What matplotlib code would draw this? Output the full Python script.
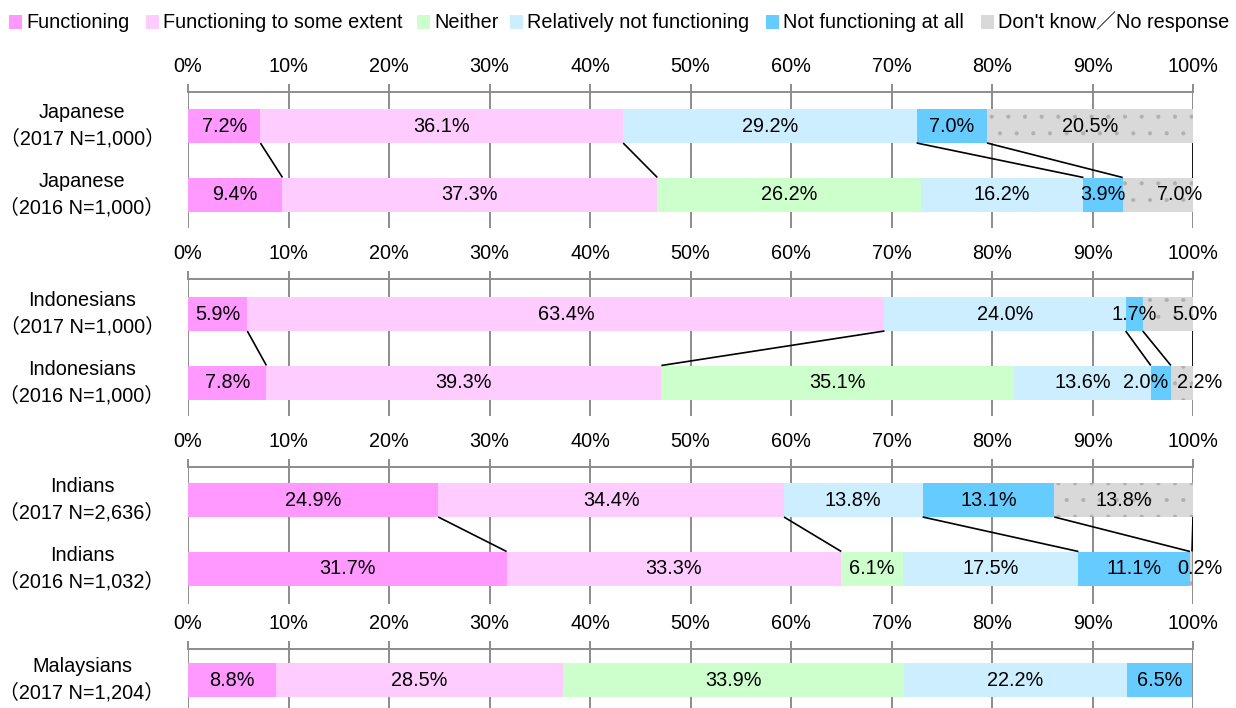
import matplotlib
matplotlib.use("Agg")
import matplotlib.pyplot as plt
from matplotlib.patches import Rectangle

plt.rcParams["font.family"] = ["Liberation Sans", "Noto Sans CJK JP", "DejaVu Sans"]
plt.rcParams["hatch.linewidth"] = 0.5

# Response categories and their colours
categories = [
    "Functioning",
    "Functioning to some extent",
    "Neither",
    "Relatively not functioning",
    "Not functioning at all",
    "Don't know／No response",
]
colors = ["#ff99ff", "#ffccff", "#ccffcc", "#cceeff", "#66ccff", "#d9d9d9"]

# Share of respondents (%) per category
japanese_2017 = [7.2, 36.1, 0.0, 29.2, 7.0, 20.5]
japanese_2016 = [9.4, 37.3, 26.2, 16.2, 3.9, 7.0]
indonesians_2017 = [5.9, 63.4, 0.0, 24.0, 1.7, 5.0]
indonesians_2016 = [7.8, 39.3, 35.1, 13.6, 2.0, 2.2]
indians_2017 = [24.9, 34.4, 0.0, 13.8, 13.1, 13.8]
indians_2016 = [31.7, 33.3, 6.1, 17.5, 11.1, 0.2]
malaysians_2017 = [8.8, 28.5, 33.9, 22.2, 6.5, 0.0]

row_labels = [
    ["Japanese\n（2017 N=1,000）", "Japanese\n（2016 N=1,000）"],
    ["Indonesians\n（2017 N=1,000）", "Indonesians\n（2016 N=1,000）"],
    ["Indians\n（2017 N=2,636）", "Indians\n（2016 N=1,032）"],
    ["Malaysians\n（2017 N=1,204）"],
]
row_values = [
    [japanese_2017, japanese_2016],
    [indonesians_2017, indonesians_2016],
    [indians_2017, indians_2016],
    [malaysians_2017],
]
tick_values = list(range(0, 101, 10))
tick_labels = [f"{t}%" for t in tick_values]

# Layout (pixels)
W, H = 1236, 708
X0, X1 = 188, 1193
PITCH = 68.5
BAR_H = 34
# (axis line y, axes bottom y, first bar centre y)
panel_layout = [(92, 228, 126), (279, 416, 314), (467, 604, 500), (649, 708, 680)]
# horizontal nudges (pixels) for crowded value labels: (panel, row, category)
label_nudge = {(0, 1, 5): 22, (1, 0, 5): 27, (1, 1, 4): -15, (1, 1, 5): 18, (2, 1, 5): 9}
# legend key left edges (pixels)
legend_x = [9, 146, 417, 510, 766, 981]
LEGEND_Y = 22
KEY = 13
GRID = "#8c8c8c"
FS = 14.3
PX_PER_UNIT = (X1 - X0) / 100

fig = plt.figure(figsize=(W / 100, H / 100), dpi=100)

for p, ((top, bottom, c0), labels, rows) in enumerate(zip(panel_layout, row_labels, row_values)):
    ax = fig.add_axes([X0 / W, 1 - bottom / H, (X1 - X0) / W, (bottom - top) / H])
    ax.set_xlim(0, 100)
    ax.set_ylim((bottom - c0) / PITCH, -(c0 - top) / PITCH)
    h = BAR_H / PITCH

    cums = []
    for i, vals in enumerate(rows):
        left = 0.0
        ends = []
        for j, v in enumerate(vals):
            if v > 0:
                hatched = j == 5
                ax.barh(i, v, left=left, height=h, color=colors[j],
                        hatch="." if hatched else None,
                        edgecolor="#b0b0b0" if hatched else colors[j],
                        linewidth=0, zorder=2)
                dx = label_nudge.get((p, i, j), 0) / PX_PER_UNIT
                ax.text(left + v / 2 + dx, i, f"{v:.1f}%", ha="center", va="center",
                        fontsize=FS, color="black", zorder=4)
            left += v
            ends.append(left)
        cums.append(ends)
        fig.text(82 / W, 1 - (c0 + i * PITCH) / H, labels[i], ha="center",
                 va="center", fontsize=FS, linespacing=1.45)

    # Connector lines between matching segment ends of consecutive years
    if len(rows) == 2:
        for j in range(len(categories)):
            if rows[0][j] > 0 and rows[1][j] > 0:
                ax.plot([cums[0][j], cums[1][j]], [h / 2, 1 - h / 2],
                        color="black", lw=1.2, zorder=3, solid_capstyle="butt")

    ax.set_xticks(tick_values)
    ax.set_xticklabels(tick_labels)
    ax.xaxis.tick_top()
    ax.tick_params(axis="x", top=True, bottom=False, direction="out", length=5.8,
                   width=1.4, color=GRID, pad=5.5, labelsize=FS)
    ax.set_yticks([])
    for side in ["left", "right", "bottom"]:
        ax.spines[side].set_visible(False)
    ax.spines["top"].set_color(GRID)
    ax.spines["top"].set_linewidth(1.4)
    ax.grid(axis="x", color=GRID, lw=1.4)
    ax.set_axisbelow(True)
    ax.patch.set_alpha(0)

# Legend row: colour keys with their category names
for x, c, name in zip(legend_x, colors, categories):
    fig.add_artist(Rectangle((x / W, 1 - (LEGEND_Y + KEY / 2) / H), KEY / W, KEY / H,
                             transform=fig.transFigure, facecolor=c, edgecolor="none"))
    fig.text((x + KEY + 4) / W, 1 - LEGEND_Y / H, name, ha="left", va="center",
             fontsize=FS)

fig.savefig("out.png", dpi=100)
